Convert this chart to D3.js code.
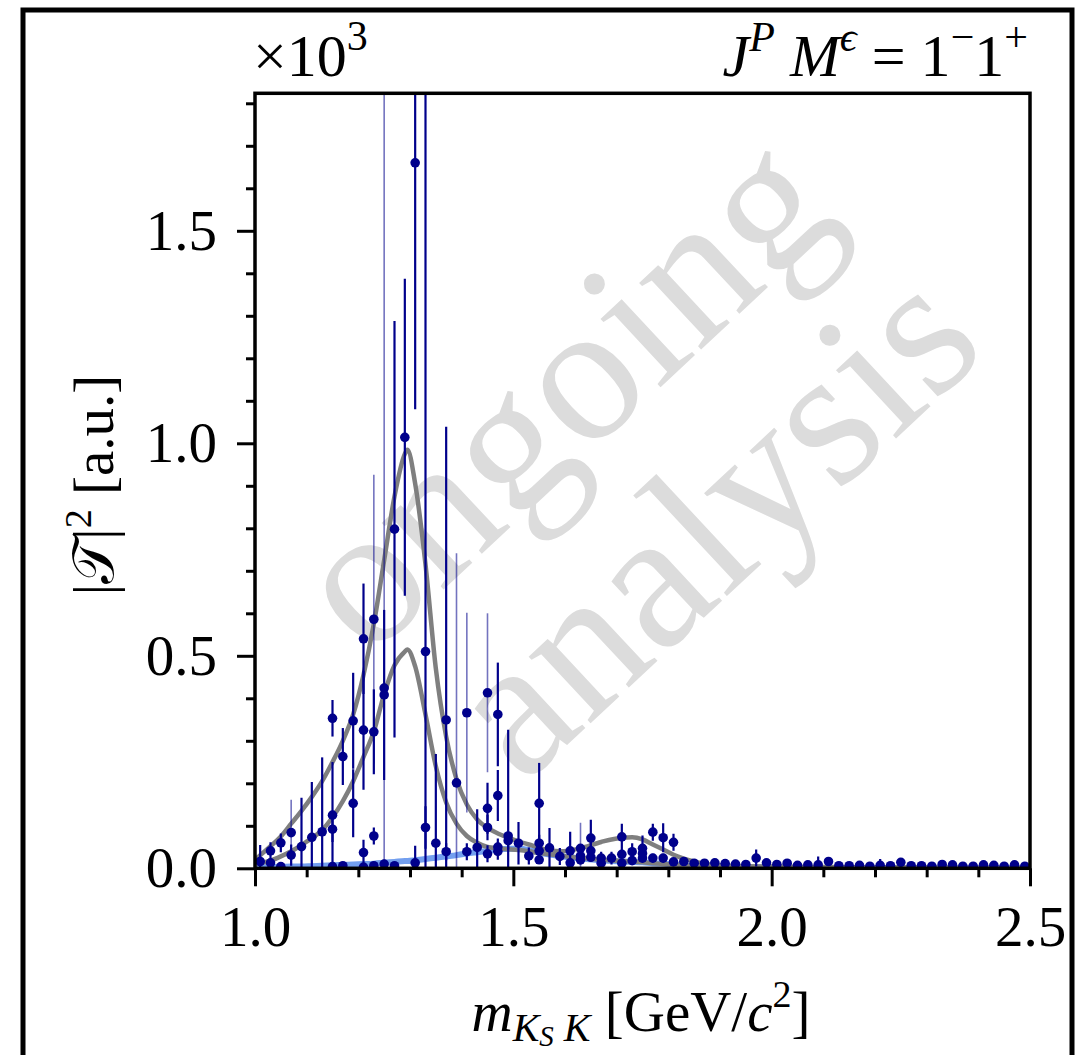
<!DOCTYPE html>
<html>
<head>
<meta charset="utf-8">
<script src="https://cdn.jsdelivr.net/npm/d3@7"></script>
<style>
  body { margin: 0; background: #fff; }
  svg { display: block; font-family: "Liberation Serif", "Times New Roman", serif; }
  text { white-space: pre; }
</style>
</head>
<body>
<svg id="chart" width="1081" height="1055"></svg>
<script>
// --- fit curves ---
const fitMass = [1.00, 1.03, 1.05, 1.07, 1.09, 1.11, 1.13, 1.15, 1.17, 1.19, 1.21, 1.23, 1.25, 1.27, 1.29, 1.295,
  1.31, 1.33, 1.35, 1.37, 1.39, 1.41, 1.43, 1.45, 1.47, 1.49, 1.51, 1.53, 1.55, 1.59, 1.63, 1.67, 1.71, 1.73,
  1.75, 1.77, 1.79, 1.81, 1.83, 1.85, 1.87, 1.90, 1.95, 2.00, 2.10, 2.20, 2.30, 2.40, 2.50];
// upper grey curve (total)
const fitTotal = [0.020, 0.052, 0.075, 0.105, 0.135, 0.168, 0.205, 0.250, 0.300, 0.362, 0.455, 0.575, 0.725, 0.875, 0.975, 0.985,
  0.905, 0.715, 0.470, 0.310, 0.210, 0.150, 0.115, 0.095, 0.082, 0.072, 0.063, 0.056, 0.048, 0.040, 0.047, 0.062, 0.072, 0.073,
  0.068, 0.056, 0.044, 0.032, 0.023, 0.016, 0.011, 0.007, 0.005, 0.004, 0.003, 0.002, 0.002, 0.001, 0.001];
// lower grey curve (resonance)
const fitWave = [0.010, 0.018, 0.028, 0.040, 0.055, 0.071, 0.090, 0.120, 0.158, 0.205, 0.262, 0.322, 0.410, 0.478, 0.510, 0.515,
  0.475, 0.362, 0.240, 0.155, 0.105, 0.076, 0.060, 0.050, 0.047, 0.045, 0.043, 0.040, 0.036, 0.030, 0.024, 0.020, 0.017, 0.016,
  0.014, 0.012, 0.010, 0.008, 0.007, 0.005, 0.004, 0.003, 0.002, 0.002, 0.001, 0.001, 0.001, 0.001, 0.001];
// light blue curve
const fitBkg = [0.002, 0.003, 0.003, 0.004, 0.004, 0.005, 0.006, 0.007, 0.008, 0.009, 0.010, 0.011, 0.013, 0.015, 0.017, 0.017,
  0.019, 0.022, 0.025, 0.028, 0.031, 0.035, 0.038, 0.041, 0.044, 0.046, 0.046, 0.043, 0.037, 0.029, 0.023, 0.019, 0.016, 0.015,
  0.014, 0.012, 0.011, 0.009, 0.007, 0.005, 0.004, 0.003, 0.002, 0.002, 0.001, 0.001, 0.001, 0.001, 0.001];

// data points: [mass, value, error, weight]
const points = [
  [1.01, 0.016, 0.039, 1],
  [1.03, 0.041, 0.020, 1], [1.03, 0.013, 0.010, 1],
  [1.05, 0.060, 0.022, 1], [1.05, 0.004, 0.005, 1],
  [1.07, 0.084, 0.077, 0.5], [1.07, 0.031, 0.025, 1],
  [1.09, 0.051, 0.115, 1],
  [1.11, 0.073, 0.130, 1],
  [1.13, 0.086, 0.175, 1],
  [1.15, 0.353, 0.043, 1], [1.15, 0.125, 0.125, 1], [1.15, 0.092, 0.030, 1], [1.15, 0.004, 0.005, 1],
  [1.17, 0.263, 0.067, 1], [1.17, 0.006, 0.008, 1],
  [1.19, 0.347, 0.113, 1], [1.19, 0.153, 0.080, 1],
  [1.21, 0.540, 0.130, 1], [1.21, 0.325, 0.140, 1], [1.21, 0.037, 0.030, 1], [1.21, 0.003, 0.005, 1],
  [1.23, 0.586, 0.340, 0.5], [1.23, 0.321, 0.100, 1], [1.23, 0.076, 0.020, 1], [1.23, 0.006, 0.005, 1],
  [1.25, 0.424, 1.500, 0.5], [1.25, 0.408, 0.200, 1], [1.25, 0.010, 0.010, 1],
  [1.27, 0.798, 0.490, 1], [1.27, 0.006, 0.005, 1],
  [1.29, 1.014, 0.373, 1],
  [1.31, 1.660, 0.580, 1], [1.31, 0.013, 0.040, 1],
  [1.33, 0.510, 1.400, 1], [1.33, 0.096, 0.050, 1],
  [1.35, 0.059, 0.210, 1],
  [1.37, 0.349, 0.690, 1], [1.37, 0.039, 0.020, 1],
  [1.39, 0.201, 0.540, 0.5],
  [1.41, 0.366, 0.235, 0.5], [1.41, 0.039, 0.020, 1],
  [1.43, 0.049, 0.090, 1],
  [1.45, 0.413, 0.187, 0.5], [1.45, 0.141, 0.060, 1], [1.45, 0.096, 0.030, 1], [1.45, 0.034, 0.020, 1],
  [1.47, 0.362, 0.122, 1], [1.47, 0.171, 0.060, 1], [1.47, 0.050, 0.020, 1], [1.47, 0.040, 0.020, 1],
  [1.49, 0.076, 0.250, 1], [1.49, 0.065, 0.020, 1],
  [1.51, 0.059, 0.050, 1],
  [1.53, 0.029, 0.020, 1],
  [1.55, 0.153, 0.095, 1], [1.55, 0.059, 0.020, 1], [1.55, 0.041, 0.020, 1], [1.55, 0.020, 0.010, 1],
  [1.57, 0.048, 0.047, 1],
  [1.59, 0.028, 0.020, 1],
  [1.61, 0.041, 0.045, 1], [1.61, 0.013, 0.010, 1],
  [1.63, 0.047, 0.060, 0.5], [1.63, 0.029, 0.020, 1], [1.63, 0.020, 0.010, 1],
  [1.65, 0.071, 0.043, 1], [1.65, 0.041, 0.020, 1], [1.65, 0.026, 0.010, 1],
  [1.67, 0.024, 0.015, 1], [1.67, 0.012, 0.005, 1],
  [1.69, 0.024, 0.015, 1],
  [1.71, 0.074, 0.031, 1], [1.71, 0.033, 0.010, 1], [1.71, 0.012, 0.005, 1],
  [1.73, 0.039, 0.020, 1], [1.73, 0.018, 0.010, 1],
  [1.75, 0.047, 0.030, 1], [1.75, 0.035, 0.010, 1], [1.75, 0.024, 0.010, 1],
  [1.77, 0.085, 0.020, 1], [1.77, 0.024, 0.010, 1],
  [1.79, 0.072, 0.034, 1], [1.79, 0.024, 0.010, 1],
  [1.81, 0.061, 0.020, 1], [1.81, 0.015, 0.005, 1],
  [1.83, 0.016, 0.005, 1], [1.85, 0.012, 0.004, 1], [1.87, 0.012, 0.004, 1], [1.89, 0.013, 0.004, 1],
  [1.91, 0.011, 0.004, 1], [1.93, 0.010, 0.004, 1], [1.95, 0.009, 0.004, 1], [1.97, 0.024, 0.020, 1],
  [1.99, 0.013, 0.004, 1], [2.01, 0.009, 0.004, 1], [2.03, 0.012, 0.004, 1], [2.05, 0.007, 0.003, 1],
  [2.07, 0.008, 0.003, 1], [2.09, 0.008, 0.020, 1], [2.11, 0.016, 0.004, 1], [2.13, 0.006, 0.003, 1],
  [2.15, 0.006, 0.003, 1], [2.17, 0.007, 0.003, 1], [2.19, 0.005, 0.003, 1], [2.21, 0.007, 0.015, 1],
  [2.23, 0.006, 0.003, 1], [2.25, 0.014, 0.004, 1], [2.27, 0.006, 0.003, 1], [2.29, 0.006, 0.003, 1],
  [2.31, 0.005, 0.003, 1], [2.33, 0.009, 0.003, 1], [2.35, 0.008, 0.003, 1], [2.37, 0.005, 0.003, 1],
  [2.39, 0.005, 0.003, 1], [2.41, 0.008, 0.003, 1], [2.43, 0.007, 0.003, 1], [2.45, 0.005, 0.003, 1],
  [2.47, 0.008, 0.003, 1], [2.49, 0.005, 0.003, 1]
];

const xMajor = [1.0, 1.5, 2.0, 2.5];
const xMinor = [1.1, 1.2, 1.3, 1.4, 1.6, 1.7, 1.8, 1.9, 2.1, 2.2, 2.3, 2.4];
const yMajor = [0.0, 0.5, 1.0, 1.5];
const yMinor = [0.1, 0.2, 0.3, 0.4, 0.6, 0.7, 0.8, 0.9, 1.1, 1.2, 1.3, 1.4, 1.6, 1.7, 1.8];

// --- setup ---
const svg = d3.select("#chart");
const plot = { left: 255, right: 1030, top: 93.3, bottom: 868.3 };

const x = d3.scaleLinear().domain([1.0, 2.5]).range([plot.left, plot.right]);
const y = d3.scaleLinear().domain([0, 1.8235]).range([plot.bottom, plot.top]);

// outer frame
svg.append("rect")
  .attr("x", 23).attr("y", 10).attr("width", 1049).attr("height", 1100)
  .attr("fill", "none").attr("stroke", "#000").attr("stroke-width", 5);

svg.append("clipPath").attr("id", "clip")
  .append("rect")
  .attr("x", plot.left).attr("y", plot.top)
  .attr("width", plot.right - plot.left).attr("height", plot.bottom - plot.top);

// watermark
const wm = svg.append("g")
  .attr("transform", "translate(648,470) rotate(-43)")
  .attr("fill", "#dcdcdc").attr("font-size", 198).attr("text-anchor", "middle");
wm.append("text").attr("x", -10).attr("y", -52).text("ongoing");
wm.append("text").attr("x", 12).attr("y", 146).text("analysis");

const inner = svg.append("g").attr("clip-path", "url(#clip)");

const line = vals => d3.line()
  .x((d, i) => x(fitMass[i]))
  .y(d => y(d))
  .curve(d3.curveMonotoneX)(vals);

inner.append("path").attr("d", line(fitBkg))
  .attr("fill", "none").attr("stroke", "#6495ed").attr("stroke-width", 6).attr("opacity", 0.9);
inner.append("path").attr("d", line(fitWave))
  .attr("fill", "none").attr("stroke", "#7f7f7f").attr("stroke-width", 4.5);
inner.append("path").attr("d", line(fitTotal))
  .attr("fill", "none").attr("stroke", "#7f7f7f").attr("stroke-width", 4.5);

// error bars + points
inner.selectAll("line.err")
  .data(points)
  .join("line")
  .attr("class", "err")
  .attr("x1", d => x(d[0])).attr("x2", d => x(d[0]))
  .attr("y1", d => y(d[1] - d[2])).attr("y2", d => y(d[1] + d[2]))
  .attr("stroke", "#00008b")
  .attr("stroke-opacity", d => d[3] < 1 ? 0.55 : 1)
  .attr("stroke-width", d => d[3] < 1 ? 1.6 : 2.2);

inner.selectAll("circle.pt")
  .data(points)
  .join("circle")
  .attr("class", "pt")
  .attr("cx", d => x(d[0])).attr("cy", d => y(d[1]))
  .attr("r", 4.8)
  .attr("fill", "#00008b");

// box
svg.append("rect")
  .attr("x", plot.left).attr("y", plot.top)
  .attr("width", plot.right - plot.left).attr("height", plot.bottom - plot.top)
  .attr("fill", "none").attr("stroke", "#000").attr("stroke-width", 3.5);

// axes
function styleAxis(g) {
  g.select(".domain").remove();
  g.selectAll(".tick line").attr("stroke", "#000").attr("stroke-width", 3);
  g.selectAll(".tick text")
    .attr("fill", "#000").attr("font-size", 57)
    .attr("font-family", "'Liberation Serif', 'Times New Roman', serif");
}

svg.append("g").attr("transform", `translate(0,${plot.bottom})`)
  .call(d3.axisBottom(x).tickValues(xMinor).tickSize(9).tickFormat(""))
  .call(styleAxis);
svg.append("g").attr("transform", `translate(0,${plot.bottom})`)
  .call(d3.axisBottom(x).tickValues(xMajor).tickSize(18).tickPadding(19).tickFormat(d3.format(".1f")))
  .call(styleAxis);

svg.append("g").attr("transform", `translate(${plot.left},0)`)
  .call(d3.axisLeft(y).tickValues(yMinor).tickSize(9).tickFormat(""))
  .call(styleAxis);
svg.append("g").attr("transform", `translate(${plot.left},0)`)
  .call(d3.axisLeft(y).tickValues(yMajor).tickSize(18).tickPadding(20).tickFormat(d3.format(".1f")))
  .call(styleAxis);

// x label
const xl = svg.append("text")
  .attr("x", 641).attr("y", 1031).attr("text-anchor", "middle").attr("font-size", 57);
xl.append("tspan").attr("font-style", "italic").text("m");
xl.append("tspan").attr("font-style", "italic").attr("font-size", 40).attr("dy", 10).text("K");
xl.append("tspan").attr("font-style", "italic").attr("font-size", 29).attr("dy", 5).text("S");
xl.append("tspan").attr("font-style", "italic").attr("font-size", 40).attr("dy", -5).text(" K");
xl.append("tspan").attr("dy", -10).text(" [GeV/");
xl.append("tspan").attr("font-style", "italic").text("c");
xl.append("tspan").attr("font-size", 38).attr("dy", -24).text("2");
xl.append("tspan").attr("dy", 24).text("]");

// y label
const yl = svg.append("text")
  .attr("transform", "translate(113,485) rotate(-90)")
  .attr("text-anchor", "middle").attr("font-size", 57);
yl.append("tspan").text("|\u{1D4AF}|");
yl.append("tspan").attr("font-size", 38).attr("dy", -22).text("2");
yl.append("tspan").attr("dy", 22).text(" [a.u.]");

// multiplier
const mul = svg.append("text").attr("x", 253).attr("y", 76).attr("font-size", 60);
mul.append("tspan").text("\u00d710");
mul.append("tspan").attr("font-size", 42).attr("dy", -26).text("3");

// header
const hd = svg.append("text").attr("x", 1028).attr("y", 76).attr("text-anchor", "end").attr("font-size", 60);
hd.append("tspan").attr("font-style", "italic").text("J");
hd.append("tspan").attr("font-style", "italic").attr("font-size", 42).attr("dy", -25).text("P");
hd.append("tspan").attr("font-style", "italic").attr("dy", 25).text(" M");
hd.append("tspan").attr("font-style", "italic").attr("font-size", 42).attr("dy", -25).text("\u03f5");
hd.append("tspan").attr("dy", 25).text(" = 1");
hd.append("tspan").attr("font-size", 42).attr("dy", -25).text("\u2212");
hd.append("tspan").attr("dy", 25).text("1");
hd.append("tspan").attr("font-size", 42).attr("dy", -25).text("+");
</script>
</body>
</html>
